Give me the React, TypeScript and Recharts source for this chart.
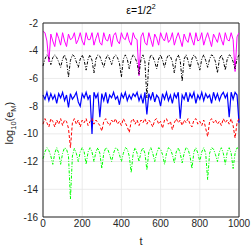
import { LineChart, Line, XAxis, YAxis, CartesianGrid, ReferenceLine } from 'recharts';

// time samples
const tValues = [
  0, 10, 20, 30, 40, 50, 60, 70, 80, 90,
  100, 110, 120, 130, 140, 150, 160, 170, 180, 190,
  200, 210, 220, 230, 240, 250, 260, 270, 280, 290,
  300, 310, 320, 330, 340, 350, 360, 370, 380, 390,
  400, 410, 420, 430, 440, 450, 460, 470, 480, 490,
  500, 510, 520, 530, 540, 550, 560, 570, 580, 590,
  600, 610, 620, 630, 640, 650, 660, 670, 680, 690,
  700, 710, 720, 730, 740, 750, 760, 770, 780, 790,
  800, 810, 820, 830, 840, 850, 860, 870, 880, 890,
  900, 910, 920, 930, 940, 950, 960, 970, 980, 990,
  1000,
];

const magenta = [
  -2.6, -2.7, -3.3, -4.8, -2.8, -3.3, -3.7, -2.7, -3.1, -3.6,
  -2.7, -3.3, -3.7, -2.8, -3.2, -3.1, -2.7, -3.5, -3.2, -2.7,
  -3.3, -3.6, -2.7, -3.2, -3.2, -2.7, -3.6, -3.1, -2.7, -3.4,
  -3.6, -2.7, -3.2, -3.3, -2.8, -3.7, -2.9, -2.7, -3.3, -3.5,
  -2.7, -3.1, -3.2, -2.7, -3.3, -3.6, -2.7, -3.1, -3.2, -5.8,
  -3.0, -2.7, -3.4, -3.6, -2.7, -3.2, -3.7, -2.8, -3.1, -3.6,
  -2.7, -3.1, -3.3, -2.7, -3.4, -3.2, -2.7, -3.6, -3.1, -2.7,
  -3.2, -3.7, -2.8, -3.2, -3.4, -2.7, -3.2, -3.6, -2.7, -3.3,
  -3.2, -2.7, -3.6, -3.1, -2.7, -3.2, -3.7, -2.8, -3.1, -3.4,
  -2.7, -3.2, -3.6, -2.7, -3.2, -3.3, -2.7, -3.2, -5.5, -3.0,
  -2.7,
];

const black = [
  -5.1, -4.6, -4.3, -4.5, -5.0, -4.5, -4.3, -4.5, -4.8, -5.2,
  -4.6, -4.3, -4.7, -5.9, -4.7, -4.3, -4.4, -4.8, -5.2, -4.6,
  -4.3, -4.7, -5.4, -4.6, -4.3, -4.7, -5.6, -4.6, -4.3, -4.4,
  -4.8, -5.2, -4.6, -4.3, -4.6, -5.0, -4.5, -4.3, -4.5, -4.9,
  -5.9, -4.6, -4.3, -4.6, -5.3, -4.6, -4.3, -4.5, -4.9, -5.7,
  -4.6, -4.3, -4.8, -7.4, -4.8, -4.3, -4.4, -4.8, -5.3, -4.6,
  -4.3, -4.7, -5.2, -4.6, -4.3, -4.4, -4.8, -5.6, -4.6, -4.3,
  -4.7, -6.2, -4.6, -4.3, -4.7, -5.3, -4.6, -4.3, -4.5, -4.9,
  -5.4, -4.6, -4.3, -4.7, -5.2, -4.6, -4.3, -4.4, -4.8, -5.6,
  -4.6, -4.3, -4.7, -5.4, -4.6, -4.3, -4.4, -4.8, -5.3, -4.6,
  -4.3,
];

const blue = [
  -7.2, -7.5, -7.0, -7.6, -7.1, -7.5, -7.2, -7.8, -7.1, -7.4,
  -7.0, -7.6, -7.2, -8.1, -7.1, -7.5, -7.3, -7.0, -7.7, -8.0,
  -7.1, -7.4, -7.0, -7.5, -7.2, -10.0, -7.0, -7.4, -7.1, -8.8,
  -7.1, -7.6, -7.0, -7.8, -7.2, -7.4, -7.0, -7.5, -7.3, -7.9,
  -7.1, -7.4, -7.0, -7.6, -7.2, -7.5, -7.1, -7.3, -7.0, -7.6,
  -7.2, -7.8, -7.0, -8.6, -7.1, -7.5, -7.0, -7.7, -7.2, -7.4,
  -8.0, -7.1, -7.5, -7.0, -7.6, -7.2, -7.8, -7.1, -7.4, -7.0,
  -8.9, -7.2, -7.5, -7.0, -7.7, -7.1, -7.4, -7.0, -7.8, -7.2,
  -7.5, -7.0, -7.6, -7.1, -7.4, -7.2, -7.8, -7.0, -7.5, -7.1,
  -7.6, -7.2, -7.0, -7.4, -7.1, -8.8, -7.0, -7.5, -7.0, -7.2,
  -9.2,
];

const red = [
  -9.3, -8.9, -9.2, -9.5, -8.9, -9.1, -9.5, -9.0, -9.3, -8.9,
  -9.4, -9.0, -9.1, -9.6, -11.0, -9.2, -8.9, -9.3, -9.0, -9.5,
  -9.0, -9.2, -8.9, -9.4, -9.1, -8.9, -9.3, -9.0, -9.2, -9.4,
  -9.8, -9.1, -8.9, -9.2, -9.4, -9.0, -9.2, -8.9, -9.3, -9.1,
  -9.4, -8.9, -9.2, -9.5, -9.9, -9.1, -8.9, -9.3, -9.0, -9.4,
  -9.0, -9.2, -8.9, -9.3, -9.0, -9.2, -9.5, -9.0, -8.9, -9.3,
  -9.1, -9.6, -9.0, -8.9, -9.3, -9.1, -9.7, -9.2, -8.9, -9.2,
  -9.0, -9.4, -9.0, -9.2, -8.9, -9.3, -9.5, -9.0, -8.9, -9.3,
  -9.1, -9.4, -9.0, -9.6, -10.2, -9.1, -8.9, -9.2, -9.0, -9.3,
  -9.1, -9.4, -8.9, -9.2, -9.0, -9.3, -8.9, -9.4, -10.3, -9.2,
  -8.9,
];

const green = [
  -11.8, -11.3, -11.0, -11.2, -11.6, -12.2, -11.4, -11.0, -11.4, -12.2,
  -11.4, -11.0, -11.1, -11.6, -14.7, -11.6, -11.05, -11.4, -12.0, -11.3,
  -11.0, -11.3, -12.2, -11.3, -11.0, -11.3, -12.0, -11.3, -11.0, -11.4,
  -12.5, -11.4, -11.0, -11.1, -11.5, -12.0, -11.4, -11.0, -11.1, -11.5,
  -12.0, -11.4, -11.0, -11.1, -11.6, -12.8, -11.4, -11.0, -11.4, -12.0,
  -11.3, -11.0, -11.4, -12.6, -11.3, -11.0, -11.4, -12.0, -11.4, -11.0,
  -11.1, -11.5, -12.2, -11.4, -11.0, -11.1, -11.5, -12.1, -11.3, -11.0,
  -11.4, -12.1, -11.4, -11.0, -11.1, -11.6, -12.5, -11.3, -11.0, -11.4,
  -12.0, -11.3, -11.0, -11.4, -13.3, -11.4, -11.0, -11.1, -11.5, -12.0,
  -11.3, -11.0, -11.4, -12.2, -11.3, -11.0, -11.4, -12.5, -11.4, -11.0,
  -11.1,
];

const xTicks = [0, 200, 400, 600, 800, 1000];
const yTicks = [-16, -14, -12, -10, -8, -6, -4, -2];

const data = tValues.map((t, i) => ({
  t,
  m: magenta[i],
  k: black[i],
  b: blue[i],
  r: red[i],
  g: green[i],
}));

const FONT = '"Liberation Sans", Arial, sans-serif';
const tickStyle = { fill: '#262626', fontSize: 10, fontFamily: FONT };

export default function App() {
  return (
    <div style={{ position: 'absolute', left: 0, top: 0, width: 251, height: 251, background: '#fff', fontFamily: FONT }}>
      <LineChart width={251} height={251} data={data} margin={{ top: 23, right: 12, bottom: 0, left: 0 }}>
        <CartesianGrid stroke="#e6e6e6" strokeWidth={0.8} />
        <XAxis
          dataKey="t" type="number" domain={[0, 1000]} ticks={xTicks} height={34}
          tick={tickStyle} tickLine={false} tickSize={0} tickMargin={3}
          axisLine={{ stroke: '#262626' }}
        />
        <YAxis
          type="number" domain={[-16, -2]} ticks={yTicks} width={43}
          tick={tickStyle} tickLine={false} tickSize={0} tickMargin={5}
          axisLine={{ stroke: '#262626' }} allowDataOverflow
        />
        <ReferenceLine y={-2} stroke="#262626" />
        <ReferenceLine x={1000} stroke="#262626" />
        <Line dataKey="m" stroke="#ff00ff" strokeWidth={1} dot={false} isAnimationActive={false} />
        <Line dataKey="k" stroke="#000000" strokeWidth={1} strokeDasharray="3 1.5 1 1.5" dot={false} isAnimationActive={false} />
        <Line dataKey="b" stroke="#0000ff" strokeWidth={1.2} dot={false} isAnimationActive={false} />
        <Line dataKey="r" stroke="#ff0000" strokeWidth={1} strokeDasharray="3 2" dot={false} isAnimationActive={false} />
        <Line dataKey="g" stroke="#00ff00" strokeWidth={1} strokeDasharray="3 1.5 1 1.5" dot={false} isAnimationActive={false} />
      </LineChart>
      <div style={{ position: 'absolute', left: 91, width: 100, top: 3, textAlign: 'center', fontSize: 10.5, color: '#000', lineHeight: '14px' }}>
        ε=1/2<sup style={{ fontSize: 7, verticalAlign: 'top', lineHeight: '8px' }}>2</sup>
      </div>
      <div style={{ position: 'absolute', left: 91, width: 100, top: 234, textAlign: 'center', fontSize: 11, color: '#262626', lineHeight: '14px' }}>
        t
      </div>
      <div style={{ position: 'absolute', left: 10, top: 122, width: 0, height: 0 }}>
        <div style={{ position: 'absolute', left: -50, top: -7, width: 100, textAlign: 'center', fontSize: 11, color: '#262626', lineHeight: '14px', transform: 'rotate(-90deg)', whiteSpace: 'nowrap' }}>
          log<sub style={{ fontSize: 7.5, lineHeight: '8px' }}>10</sub>(e<sub style={{ fontSize: 7.5, lineHeight: '8px' }}>M</sub>)
        </div>
      </div>
    </div>
  );
}
